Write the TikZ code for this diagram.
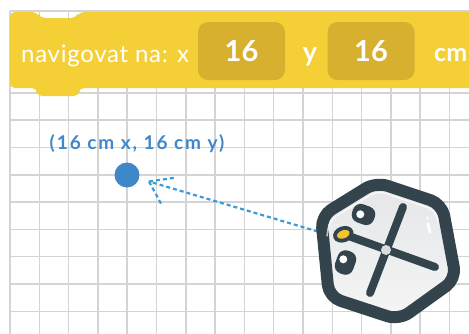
\documentclass[tikz,border=0pt]{standalone}
\usepackage{fontspec}
\setmainfont{Lato}
\usetikzlibrary{calc}

\definecolor{blockyellow}{HTML}{F4CF35}
\definecolor{slotyellow}{HTML}{D8B02F}
\definecolor{gridgray}{HTML}{D4D4D4}
\definecolor{pinblue}{HTML}{3E87C9}
\definecolor{pathblue}{HTML}{3A9BD8}
\definecolor{robotdark}{HTML}{34444D}
\definecolor{shelltop}{HTML}{E4E6E8}
\definecolor{shellbottom}{HTML}{F5F5F5}
\definecolor{hubgray}{HTML}{D9DCDE}
\definecolor{ledyellow}{HTML}{F2C230}

\tikzset{
  gridline/.style={draw=gridgray, line width=1.5pt},
  slot/.style={fill=slotyellow, rounded corners=10pt, minimum width=87pt, minimum height=58pt,
               text=white, font=\bfseries\fontsize{29}{29}\selectfont, inner sep=0pt},
  blocktext/.style={text=white, inner sep=0pt},
  route/.style={draw=pathblue, line width=2.2pt, dash pattern=on 4pt off 3pt},
  arm/.style={draw=robotdark, line width=8pt, line cap=round},
}

\begin{document}
\begin{tikzpicture}[x=1pt, y=-1pt]
\useasboundingbox (0,0) rectangle (469,333);
\fill[white] (0,0) rectangle (469,333);

% squared paper
\foreach \i in {0,...,15}
  \draw[gridline] ({10+29.3*\i},11) -- ({10+29.3*\i},340);
\foreach \j in {0,...,11}
  \draw[gridline] (10,{11+27.3*\j}) -- (480,{11+27.3*\j});

% command block with notch and tab
\fill[blockyellow, rounded corners=5pt]
  (10,88) -- (10,12) -- (37,12) -- (40,18) -- (76,18) -- (79,12) -- (485,12)
  -- (485,88) -- (79,88) -- (79,96) -- (37,96) -- (37,88) -- cycle;

\node[blocktext, anchor=base west, font=\fontsize{24}{24}\selectfont\addfontfeature{LetterSpace=3}] (cmd) at (21,62) {navigovat na: x};
\node[slot] (xslot) at (241.5,51) {16};
\node[blocktext, anchor=base, font=\bfseries\fontsize{27}{27}\selectfont] (ylabel) at (310,61) {y};
\node[slot] (yslot) at (371,51) {16};
\node[blocktext, anchor=base west, font=\bfseries\fontsize{25}{25}\selectfont] (unit) at (434,61) {cm};

% target point
\node[circle, fill=pinblue, minimum size=25pt, inner sep=0pt] (dot) at (127,175) {};
\node[anchor=base, text=pinblue, font=\bfseries\fontsize{19}{19}\selectfont\addfontfeature{LetterSpace=10}, inner sep=0pt] (coords) at (137,149) {(16 cm x, 16 cm y)};

% robot footprint, used as the start of the route
\node[circle, minimum size=144pt, inner sep=0pt] (robot) at (387,252) {};
\coordinate (tip) at ($(dot)!23pt!(robot)$);

% dashed route with open head
\draw[route] (robot) -- (tip);
\draw[route] (tip) -- ++(27,-4);
\draw[route] (tip) -- ++(13,24);

% robot body
\draw[draw=robotdark, line width=12pt, line join=round, rounded corners=12pt,
      top color=shelltop, bottom color=shellbottom]
  (376,182) -- (442,204) -- (456,279) -- (399,320) -- (329,297) -- (321,216) -- cycle;
% glossy rim along the upper inner edge
\draw[white, opacity=0.7, line width=1.5pt, line cap=round, rounded corners=8pt]
  (327,236) -- (329.3,220.5) -- (377.4,190.75) -- (435.1,210) -- (438,222);

% eyes
\node[fill=robotdark, rounded corners=8pt, minimum width=23pt, minimum height=19pt, rotate=-20, inner sep=0pt] (eyeA) at (363.5,214.5) {};
\fill[white] (360.3,214.3) circle (4pt);
\node[fill=robotdark, rounded corners=8pt, minimum width=19pt, minimum height=24pt, rotate=-20, inner sep=0pt] (eyeB) at (345.5,262.5) {};
\fill[white] (343.3,259.3) circle (4pt);

% wheels cross
\draw[arm] (403,207) -- (370,293);
\draw[arm] (343,234) -- (435,267);
\fill[robotdark, rotate around={20:(343.3,234.3)}] (343.3,234.3) ellipse (10.5pt and 8pt);
\fill[ledyellow, rotate around={20:(343.3,234.3)}] (343.3,234.3) ellipse (6.5pt and 4pt);
\fill[hubgray] (386,250) circle (5pt);

% glass highlight
\fill[white] (427.5,218) circle (1.5pt);
\draw[white, line width=3pt, line cap=round] (428,224) -- (430,232);
\end{tikzpicture}
\end{document}
